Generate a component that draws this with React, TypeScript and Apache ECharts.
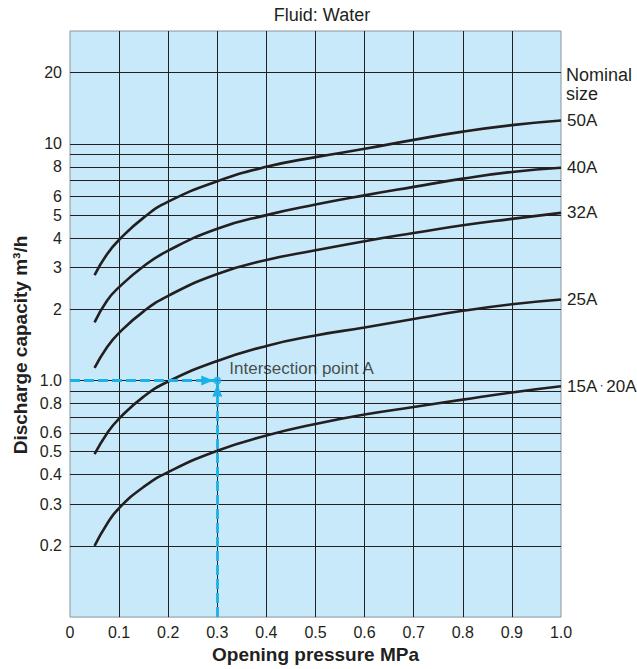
import { useEffect, useRef } from "react";
import * as echarts from "echarts";

// ---- data ----
const pressure = [0.05, 0.075, 0.1, 0.15, 0.2, 0.3, 0.4, 0.5, 0.6, 0.7, 0.8, 0.9, 1.0];
const size15_20A = [0.2, 0.247, 0.289, 0.355, 0.41, 0.505, 0.585, 0.655, 0.718, 0.772, 0.83, 0.89, 0.945];
const size25A = [0.488, 0.596, 0.69, 0.855, 0.99, 1.21, 1.4, 1.55, 1.675, 1.82, 1.97, 2.1, 2.2];
const size32A = [1.13, 1.38, 1.59, 1.96, 2.28, 2.82, 3.23, 3.55, 3.88, 4.2, 4.53, 4.82, 5.11];
const size40A = [1.76, 2.17, 2.48, 3.04, 3.54, 4.38, 5.0, 5.54, 6.06, 6.58, 7.13, 7.61, 7.93];
const size50A = [2.79, 3.41, 3.93, 4.88, 5.7, 6.95, 8.0, 8.79, 9.53, 10.4, 11.27, 12.0, 12.55];
const seriesNames = ["15A・20A", "25A", "32A", "40A", "50A"];
const seriesValues = [size15_20A, size25A, size32A, size40A, size50A];

const xTickLabels = ["0", "0.1", "0.2", "0.3", "0.4", "0.5", "0.6", "0.7", "0.8", "0.9", "1.0"];
const yGridValues = [0.1, 0.2, 0.3, 0.4, 0.5, 0.6, 0.7, 0.8, 0.9, 1, 2, 3, 4, 5, 6, 7, 8, 9, 10, 20];
const yLabelValues = [0.1, 0.2, 0.3, 0.4, 0.5, 0.6, 0.8, 1, 2, 3, 4, 5, 6, 8, 10, 20];
const yTickLabels = ["0.1", "0.2", "0.3", "0.4", "0.5", "0.6", "0.8", "1.0", "2", "3", "4", "5", "6", "8", "10", "20"];

const intersectionPoint = [0.3, 1.0];
const intersectionLabel = "Intersection point A";
const yMin = 0.1;
const yMax = 30;

const FONT = "'Liberation Sans', Arial, Helvetica, sans-serif";
const INK = "#231f20";
const BLUE = "#1ab0e8";

export default function App() {
  const ref = useRef<HTMLDivElement>(null);

  useEffect(() => {
    if (!ref.current) return;
    const chart = echarts.init(ref.current, undefined, { renderer: "svg" });

    const gridLineData = yGridValues.map((v) => {
      const idx = yLabelValues.indexOf(v);
      return {
        yAxis: v,
        lineStyle: { opacity: v === yMin ? 0 : 1 },
        label: { show: idx >= 0, formatter: idx >= 0 ? yTickLabels[idx] : "" },
      };
    });

    const curves = seriesNames.map((name, si) => ({
      name,
      type: "line",
      z: 4,
      smooth: 0.5,
      showSymbol: false,
      silent: true,
      lineStyle: { color: INK, width: 2.6 },
      data: pressure.map((p, i) => [p, seriesValues[si][i]]),
      endLabel: {
        show: true,
        formatter: (p: any) => p.seriesName.replace("・", "{d|・}"),
        distance: 6,
        color: INK,
        fontSize: 17,
        fontFamily: FONT,
        rich: { d: { fontSize: 9, color: INK } },
      },
    }));

    const option: any = {
      animation: false,
      textStyle: { fontFamily: FONT },
      grid: {
        left: 70,
        top: 31,
        width: 491,
        height: 588,
        show: true,
        backgroundColor: "#c8e9f9",
        borderColor: "#8c9499",
        borderWidth: 1,
      },
      xAxis: {
        type: "value",
        min: 0,
        max: 1,
        interval: 0.1,
        axisLine: { show: false },
        axisTick: { show: false },
        axisLabel: {
          color: INK,
          fontSize: 16,
          margin: 7,
          formatter: (v: number) => xTickLabels[Math.round(v * 10)],
        },
        splitLine: {
          show: true,
          showMinLine: false,
          showMaxLine: false,
          lineStyle: { color: INK, width: 1 },
        },
        name: "Opening pressure MPa",
        nameLocation: "middle",
        nameGap: 27,
        nameTextStyle: { color: INK, fontSize: 19, fontWeight: "bold", fontFamily: FONT },
      },
      yAxis: {
        type: "log",
        logBase: 10,
        min: yMin,
        max: yMax,
        axisLine: { show: false },
        axisTick: { show: false },
        axisLabel: { show: false },
        splitLine: { show: false },
      },
      graphic: [
        {
          type: "text",
          x: 322,
          y: 15,
          style: {
            text: "Fluid: Water",
            fill: INK,
            font: `18px ${FONT}`,
            textAlign: "center",
            textVerticalAlign: "middle",
          },
        },
        {
          type: "text",
          x: 566,
          y: 75,
          style: {
            text: "Nominal",
            fill: INK,
            font: `18px ${FONT}`,
            textAlign: "left",
            textVerticalAlign: "middle",
          },
        },
        {
          type: "text",
          x: 566,
          y: 94,
          style: {
            text: "size",
            fill: INK,
            font: `18px ${FONT}`,
            textAlign: "left",
            textVerticalAlign: "middle",
          },
        },
        {
          type: "text",
          x: 20,
          y: 345,
          rotation: Math.PI / 2,
          style: {
            text: "Discharge capacity m³/h",
            fill: INK,
            font: `bold 19px ${FONT}`,
            textAlign: "center",
            textVerticalAlign: "middle",
          },
        },
      ],
      series: [
        {
          name: "grid",
          type: "line",
          z: 1,
          silent: true,
          showSymbol: false,
          lineStyle: { opacity: 0 },
          data: [[0, yMin]],
          markLine: {
            silent: true,
            symbol: "none",
            animation: false,
            lineStyle: { color: INK, width: 1, type: "solid" },
            label: {
              position: "start",
              distance: 8,
              color: INK,
              fontSize: 16,
              fontFamily: FONT,
            },
            data: gridLineData,
          },
        },
        ...curves,
        {
          name: "guide",
          type: "scatter",
          z: 5,
          silent: true,
          symbol: "circle",
          symbolSize: 8,
          itemStyle: { color: BLUE },
          data: [intersectionPoint],
          label: {
            show: true,
            position: "right",
            distance: 8,
            offset: [0, -12],
            formatter: intersectionLabel,
            color: INK,
            fontSize: 17,
            fontFamily: FONT,
          },
          markLine: {
            silent: true,
            animation: false,
            symbol: ["none", "triangle"],
            symbolSize: [10, 12],
            symbolOffset: [
              [0, 0],
              [0, 10],
            ],
            lineStyle: { color: BLUE, width: 2.8, type: [10, 4] },
            label: { show: false },
            data: [
              [{ coord: [0, intersectionPoint[1]] }, { coord: intersectionPoint }],
              [{ coord: [intersectionPoint[0], yMin] }, { coord: intersectionPoint }],
            ],
          },
        },
      ],
    };

    chart.setOption(option);
    return () => chart.dispose();
  }, []);

  return (
    <div
      ref={ref}
      style={{ position: "absolute", left: 0, top: 0, width: 637, height: 669 }}
    />
  );
}
